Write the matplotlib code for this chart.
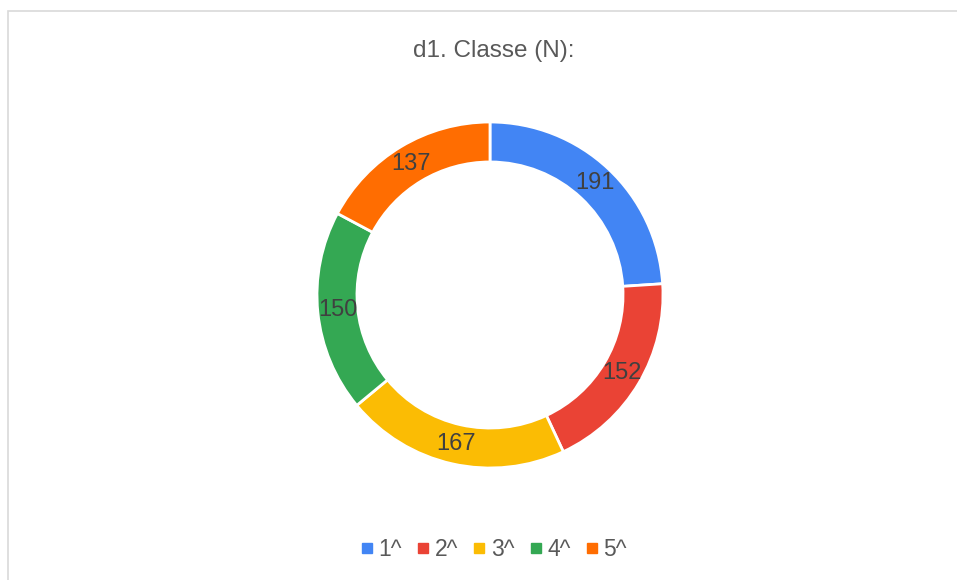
import matplotlib.pyplot as plt
from matplotlib.lines import Line2D
from matplotlib.patches import Rectangle

plt.rcParams['font.family'] = ['Liberation Sans', 'DejaVu Sans']

# Data
classes = ["1^", "2^", "3^", "4^", "5^"]
counts = [191, 152, 167, 150, 137]
colors = ["#4285F4", "#EA4335", "#FBBC04", "#34A853", "#FF6D01"]
title = "d1. Classe (N):"

W, H = 957, 580
fig = plt.figure(figsize=(W / 100, H / 100), dpi=100)

# light frame around the chart area
fig.patches.append(Rectangle((8 / W, -0.1), 1.2, 1 - 10.5 / H + 0.1,
                             transform=fig.transFigure, fill=False,
                             edgecolor="#d9d9d9", linewidth=1.2))

fig.text(494 / W, 1 - 57.5 / H, title, ha="center", va="baseline",
         fontsize=17.5, color="#595959")

# donut centre at (490, 295) px, outer radius 173 px
cx, cy, r_px, half = 490, 295, 173, 200
ax = fig.add_axes([(cx - half) / W, (H - cy - half) / H, 2 * half / W, 2 * half / H])
total = sum(counts)
wedges, _, autotexts = ax.pie(
    counts, colors=colors, startangle=90, counterclock=False, radius=1,
    wedgeprops=dict(width=0.231, edgecolor="white", linewidth=2),
    autopct=lambda p: f"{round(p * total / 100)}", pctdistance=0.884,
    textprops=dict(fontsize=17, color="#404040"))
lim = half / r_px
ax.set_xlim(-lim, lim)
ax.set_ylim(-lim, lim)
ax.axis("off")

handles = [Line2D([], [], marker="s", linestyle="none", markersize=6.5,
                  markerfacecolor=c, markeredgecolor=c) for c in colors]
fig.legend(handles, classes, loc="center", bbox_to_anchor=(494 / W, 1 - 550 / H),
           ncol=len(classes), frameon=False, fontsize=16.5, labelcolor="#595959",
           handlelength=0.5, handletextpad=0.25, columnspacing=0.68)

fig.savefig("out.png", dpi=100)
